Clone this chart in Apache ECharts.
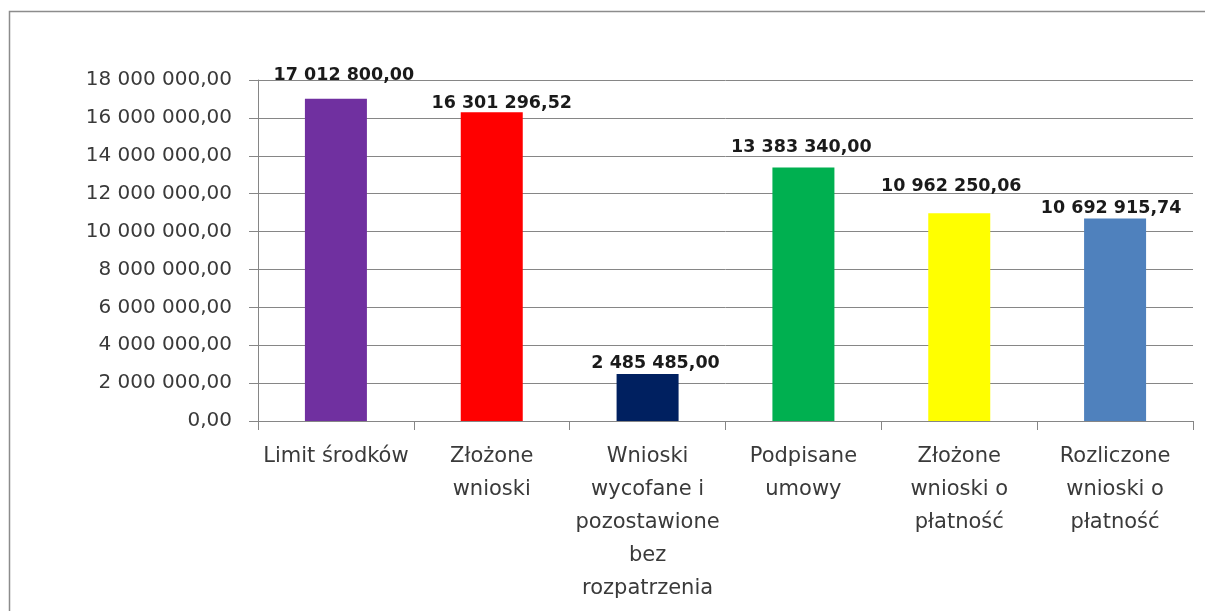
<!DOCTYPE html>
<html>
<head>
<meta charset="utf-8">
<script src="https://cdn.jsdelivr.net/npm/echarts@6/dist/echarts.min.js"></script>
<style>
  html, body { margin: 0; padding: 0; background: #fff; }
  #chart { width: 1205px; height: 611px; }
</style>
</head>
<body>
<div id="chart"></div>
<script>
// Category labels (wrapped as in the original)
const categories = [
  'Limit środków',
  'Złożone\nwnioski',
  'Wnioski\nwycofane i\npozostawione\nbez\nrozpatrzenia',
  'Podpisane\numowy',
  'Złożone\nwnioski o\npłatność',
  'Rozliczone\nwnioski o\npłatność'
];
const values = [17012800.00, 16301296.52, 2485485.00, 13383340.00, 10962250.06, 10692915.74];
const barColors = ['#7030A0', '#FF0000', '#002060', '#00B050', '#FFFF00', '#4F81BD'];

// labels were nudged by hand in the original, keep those nudges
const labelDistance = [14.5, 0, 1.5, 11.5, 17.5, 0.5];
const labelShiftX = [8, 10, 8, -2, -8, -4];

const FONT = "'DejaVu Sans', 'Open Sans', sans-serif";

// 17012800.5 -> "17 012 800,50"
function plNumber(v) {
  const [int, dec] = v.toFixed(2).split('.');
  return int.replace(/\B(?=(\d{3})+(?!\d))/g, ' ') + ',' + dec;
}

const chart = echarts.init(document.getElementById('chart'), null, { renderer: 'canvas' });

chart.setOption({
  animation: false,
  backgroundColor: '#fff',
  graphic: [{
    type: 'rect',
    shape: { x: 9.5, y: 11.5, width: 1210, height: 620 },
    style: { fill: 'none', stroke: '#8c8c8c', lineWidth: 1.5 },
    silent: true
  }],
  grid: { left: 258, right: 12, top: 80, bottom: 190 },
  xAxis: {
    type: 'category',
    data: categories,
    axisLine: { lineStyle: { color: '#868686', width: 1 } },
    axisTick: { show: true, length: 9, lineStyle: { color: '#868686' } },
    axisLabel: {
      interval: 0,
      margin: 19,
      color: '#3a3a3a',
      fontFamily: FONT,
      fontSize: 21,
      lineHeight: 33
    }
  },
  yAxis: {
    type: 'value',
    min: 0,
    max: 18000000,
    interval: 2000000,
    axisLine: { show: true, lineStyle: { color: '#868686', width: 1 } },
    axisTick: { show: true, length: 9, lineStyle: { color: '#868686' } },
    splitLine: { lineStyle: { color: '#868686', width: 1 } },
    axisLabel: {
      margin: 26,
      color: '#3a3a3a',
      fontFamily: FONT,
      fontSize: 20,
      formatter: v => plNumber(v)
    }
  },
  series: [{
    type: 'bar',
    barWidth: 62,
    data: values.map((v, i) => ({
      value: v,
      itemStyle: { color: barColors[i] },
      label: { distance: labelDistance[i], offset: [labelShiftX[i], 0] }
    })),
    label: {
      show: true,
      position: 'top',
      color: '#1a1a1a',
      fontFamily: FONT,
      fontSize: 17.5,
      fontWeight: 'bold',
      formatter: p => plNumber(p.value)
    }
  }]
});
</script>
</body>
</html>
